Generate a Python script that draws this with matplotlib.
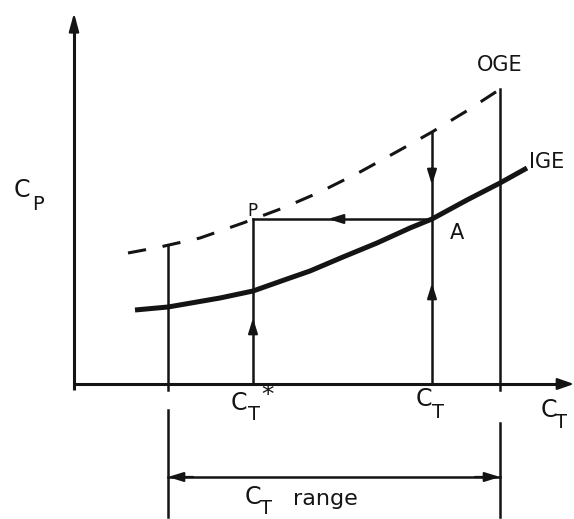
import numpy as np
import matplotlib.pyplot as plt

plt.rcParams['font.family'] = 'DejaVu Sans'

ink = '#141414'

# power coefficient curves vs thrust coefficient (schematic units)
ige_ct = [1.22, 1.88, 2.92, 3.58, 4.26, 4.72, 5.38, 6.06, 6.72, 7.16, 7.86, 8.52, 9.06]
ige_cp = [1.48, 1.54, 1.72, 1.86, 2.10, 2.26, 2.54, 2.82, 3.12, 3.30, 3.68, 4.02, 4.32]
oge_ct = [1.08, 1.72, 2.52, 3.38, 4.18, 4.92, 5.72, 6.52, 7.16, 7.82, 8.62]
oge_cp = [2.62, 2.74, 2.92, 3.22, 3.52, 3.84, 4.24, 4.68, 5.04, 5.44, 5.96]

ct_star = 3.58     # operating point P
ct_op = 7.16       # operating point A
ct_lo, ct_hi = 1.88, 8.52   # ends of the C_T range


def cp_at(ct, xs, ys):
    return np.interp(ct, xs, ys)


def head(x, y, dx, dy, hl=0.9, hw=0.28):
    ax.annotate('', xy=(x, y), xytext=(x - dx, y - dy),
                arrowprops=dict(arrowstyle='-|>,head_length=%s,head_width=%s' % (hl, hw),
                                color=ink, lw=1.6, shrinkA=0, shrinkB=0))


fig = plt.figure(figsize=(5.74, 5.19), dpi=100)
ax = fig.add_axes([0, 0, 1, 1])
ax.set_xlim(-1.48, 10.0)
ax.set_ylim(-2.70, 7.68)
ax.axis('off')

# axes of the diagram
ax.plot([0, 0], [-0.12, 7.3], color=ink, lw=2.2, solid_capstyle='butt')
ax.plot([0, 9.8], [0, 0], color=ink, lw=2.2, solid_capstyle='butt')
head(0, 7.42, 0, 0.4, hl=1.1, hw=0.3)
head(10.0, 0, 0.3, 0, hl=1.0, hw=0.35)

# curves
ax.plot(ige_ct, ige_cp, color=ink, lw=3.6, solid_capstyle='butt',
        solid_joinstyle='round')
ax.plot(oge_ct, oge_cp, color=ink, lw=2.2, dashes=(6, 5.5),
        dash_capstyle='butt', dash_joinstyle='round')

# range limits
ax.plot([ct_lo, ct_lo], [cp_at(ct_lo, oge_ct, oge_cp), -0.12], color=ink, lw=1.8)
ax.plot([ct_lo, ct_lo], [-0.52, -2.66], color=ink, lw=1.8)
ax.plot([ct_hi, ct_hi], [cp_at(ct_hi, oge_ct, oge_cp), -0.12], color=ink, lw=1.8)
ax.plot([ct_hi, ct_hi], [-0.78, -2.66], color=ink, lw=1.8)

# C_T range double arrow
y_rng = -1.86
ax.plot([ct_lo, ct_hi], [y_rng, y_rng], color=ink, lw=1.8)
head(ct_lo, y_rng, -0.5, 0)
head(ct_hi, y_rng, 0.5, 0)

# path from the OGE point down to A, across to P and down to C_T*
cp_a = cp_at(ct_op, ige_ct, ige_cp)
ax.plot([ct_op, ct_op], [cp_at(ct_op, oge_ct, oge_cp), 0], color=ink, lw=1.8)
ax.plot([ct_star, ct_op], [cp_a, cp_a], color=ink, lw=1.8)
ax.plot([ct_star, ct_star], [cp_a, 0], color=ink, lw=1.8)
head(ct_op, 3.98, 0, -0.34)
head(ct_op, 2.02, 0, 0.3)
head(5.08, cp_a, -0.3, 0)
head(ct_star, 1.32, 0, 0.3)

# labels
big = 17
small = 14
ax.text(-1.04, 3.88, 'C', fontsize=big, ha='center', va='center', color=ink)
ax.text(-0.72, 3.60, 'P', fontsize=small, ha='center', va='center', color=ink)
ax.text(8.52, 6.38, 'OGE', fontsize=15, ha='center', va='center', color=ink)
ax.text(9.10, 4.44, 'IGE', fontsize=15, ha='left', va='center', color=ink)
ax.text(7.66, 3.02, 'A', fontsize=15, ha='center', va='center', color=ink)
ax.text(3.56, 3.46, 'P', fontsize=12, ha='center', va='center', color=ink)

ax.text(3.30, -0.38, 'C', fontsize=big, ha='center', va='center', color=ink)
ax.text(3.60, -0.62, 'T', fontsize=small, ha='center', va='center', color=ink)
ax.text(3.88, -0.22, '*', fontsize=18, ha='center', va='center', color=ink)

ax.text(7.00, -0.30, 'C', fontsize=big, ha='center', va='center', color=ink)
ax.text(7.28, -0.56, 'T', fontsize=small, ha='center', va='center', color=ink)

ax.text(9.50, -0.52, 'C', fontsize=big, ha='center', va='center', color=ink)
ax.text(9.74, -0.78, 'T', fontsize=small, ha='center', va='center', color=ink)

ax.text(3.58, -2.26, 'C', fontsize=big, ha='center', va='center', color=ink)
ax.text(3.84, -2.48, 'T', fontsize=small, ha='center', va='center', color=ink)
ax.text(4.38, -2.30, 'range', fontsize=16, ha='left', va='center', color=ink)

fig.savefig('out.png', dpi=100, facecolor='white')
